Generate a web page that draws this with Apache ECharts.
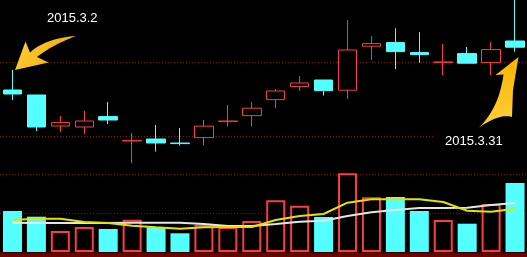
<!DOCTYPE html>
<html>
<head>
<meta charset="utf-8">
<script src="https://cdn.jsdelivr.net/npm/echarts@6/dist/echarts.min.js"></script>
<style>
html,body{margin:0;padding:0;background:#000;}
#chart{width:527px;height:257px;}
</style>
</head>
<body>
<div id="chart"></div>
<script>
// Trading days, March 2015
const dates = ['2015.3.2','2015.3.3','2015.3.4','2015.3.5','2015.3.6','2015.3.9','2015.3.10','2015.3.11','2015.3.12','2015.3.13','2015.3.16','2015.3.17','2015.3.18','2015.3.19','2015.3.20','2015.3.23','2015.3.24','2015.3.25','2015.3.26','2015.3.27','2015.3.30','2015.3.31'];
const openP  = [15.50,15.25,13.70,13.65,14.17,12.95,13.05,12.85,13.12,13.92,14.22,15.02,15.67,16.00,15.49,17.69,17.87,17.37,16.88,17.32,16.87,17.95];
const closeP = [15.30,13.65,13.87,13.95,14.00,12.98,12.85,12.82,13.69,13.95,14.59,15.45,15.85,15.47,17.50,17.82,17.42,17.27,16.90,16.84,17.52,17.64];
const lowP   = [15.00,13.45,13.40,13.30,13.80,11.84,12.42,12.72,12.72,13.67,13.67,14.59,15.45,15.22,15.05,17.00,16.55,16.87,16.25,16.84,16.25,17.42];
const highP  = [16.50,15.25,14.20,14.45,14.90,13.35,13.75,13.60,14.00,14.75,14.90,15.55,16.20,16.00,19.00,18.20,18.59,18.39,17.80,17.65,17.90,20.00];
const volume = [41000,35300,21000,25000,23000,32300,24700,18700,27300,25000,31000,51700,46300,35000,78700,54700,55000,41000,32000,28300,48000,69000];
const volMA5  = [32000,33300,33300,30000,29000,26300,24700,23300,24700,25000,25000,32000,36000,38000,49300,52700,52700,52700,50000,41300,40300,43300];
const volMA10 = [29300,29000,29000,29000,29000,29300,29300,29300,28000,26000,26000,28000,30300,31300,36000,39700,42000,44000,44000,44300,47000,49000];
const priceLevels = [16.9, 13.2];
const volumeLevels = [78000, 39000];
const noteFirst = '2015.3.2';
const noteLast = '2015.3.31';

const RED = '#ff3c3c';
const CYAN = '#54ffff';
const DOT = '#8a0c0c';

const candleData = dates.map((d, i) => [openP[i], closeP[i], lowP[i], highP[i]]);
const volData = volume.map((v, i) => ({
  value: v,
  itemStyle: closeP[i] >= openP[i]
    ? { color: '#000', borderColor: RED, borderWidth: 2 }
    : { color: CYAN, borderColor: CYAN, borderWidth: 0 }
}));

// Decorative arrow outline: points or quadratic curves {q:[ctrl,end]}
function outline(start, segs) {
  const pts = [start];
  let cur = start;
  segs.forEach(s => {
    if (s.q) {
      const c = s.q[0], e = s.q[1];
      for (let t = 1; t <= 14; t++) {
        const u = t / 14;
        pts.push([(1-u)*(1-u)*cur[0] + 2*(1-u)*u*c[0] + u*u*e[0], (1-u)*(1-u)*cur[1] + 2*(1-u)*u*c[1] + u*u*e[1]]);
      }
      cur = e;
    } else {
      pts.push(s); cur = s;
    }
  });
  return pts;
}
const arrow1 = outline([15,70], [[25.5,41.5],[30,52.5],{q:[[46,38],[76,36]]},{q:[[52,45],[37,57]]},[48.5,62.5]]);
const arrow2 = outline([518.5,57], [[495.5,75],[503.5,74.5],{q:[[499,108],[479,127.5]]},{q:[[500,113],[512,117]]},[513,90]]);

const chart = echarts.init(document.getElementById('chart'), null, { renderer: 'canvas' });
const arrowGrad1 = { type: 'linear', x: 0, y: 0, x2: 1, y2: 1, colorStops: [
  { offset: 0, color: '#ffd23a' }, { offset: 1, color: '#f2a000' }] };
const arrowGrad2 = { type: 'linear', x: 0, y: 0, x2: 0, y2: 1, colorStops: [
  { offset: 0, color: '#f8b400' }, { offset: 1, color: '#ffcf3a' }] };

const option = {
  backgroundColor: '#000',
  animation: false,
  grid: [
    { left: 0.5, right: -1.5, top: 0, height: 180 },
    { left: 0.5, right: -1.5, top: 172, height: 80 }
  ],
  xAxis: [
    { type: 'category', data: dates, gridIndex: 0, show: false, boundaryGap: true },
    { type: 'category', data: dates, gridIndex: 1, show: false, boundaryGap: true }
  ],
  yAxis: [
    { type: 'value', gridIndex: 0, min: 11, max: 20, show: false, splitLine: { show: false } },
    { type: 'value', gridIndex: 1, min: 0, max: 80000, show: false, splitLine: { show: false } }
  ],
  series: [
    {
      type: 'candlestick',
      xAxisIndex: 0, yAxisIndex: 0,
      data: candleData,
      barWidth: 19,
      z: 3,
      itemStyle: { color: '#000', color0: CYAN, borderColor: RED, borderColor0: CYAN, borderWidth: 1 }
    },
    {
      type: 'bar',
      xAxisIndex: 1, yAxisIndex: 1,
      data: volData,
      barWidth: 19,
      z: 3
    },
    {
      type: 'line', xAxisIndex: 1, yAxisIndex: 1, data: volMA10, z: 4,
      symbol: 'none', lineStyle: { color: '#e6e6e6', width: 2 }
    },
    {
      type: 'line', xAxisIndex: 1, yAxisIndex: 1, data: volMA5, z: 5,
      symbol: 'none', lineStyle: { color: '#e2e200', width: 2 }
    }
  ]
};
chart.setOption(option);

// Reference levels: dotted lines placed through the axes' own scales, beneath the marks
const levelLines = [];
priceLevels.forEach(v => {
  const y = Math.round(chart.convertToPixel({ yAxisIndex: 0 }, v)) + 0.5;
  levelLines.push({ type: 'line', z: 0, shape: { x1: 0, y1: y, x2: 527, y2: y }, style: { stroke: DOT, lineWidth: 1, lineDash: [1, 2] } });
});
volumeLevels.forEach(v => {
  const y = Math.round(chart.convertToPixel({ yAxisIndex: 1 }, v)) + 0.5;
  levelLines.push({ type: 'line', z: 0, shape: { x1: 0, y1: y, x2: 527, y2: y }, style: { stroke: DOT, lineWidth: 1, lineDash: [1, 2] } });
});

chart.setOption({
  graphic: levelLines.concat([
    { type: 'rect', z: 10, shape: { x: 0, y: 252.5, width: 527, height: 5 }, style: { fill: '#6e0000' } },
    { type: 'rect', z: 10, shape: { x: 433, y: 131, width: 94, height: 20 }, style: { fill: '#000' } },
    { type: 'polygon', z: 20, shape: { points: arrow1 }, style: { fill: arrowGrad1 } },
    { type: 'polygon', z: 20, shape: { points: arrow2 }, style: { fill: arrowGrad2 } },
    { type: 'text', z: 20, x: 47, y: 12, style: { text: noteFirst, fill: '#ffffff', font: '13px "Liberation Sans", Arial, sans-serif' } },
    { type: 'text', z: 20, x: 445, y: 135, style: { text: noteLast, fill: '#ffffff', font: '13px "Liberation Sans", Arial, sans-serif' } }
  ])
});
</script>
</body>
</html>
